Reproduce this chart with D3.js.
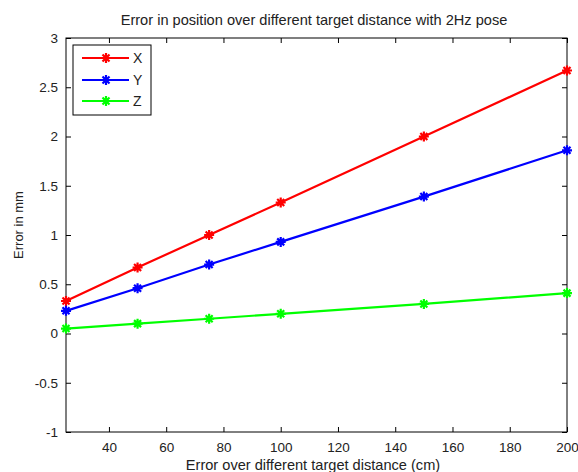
<!DOCTYPE html>
<html><head><meta charset="utf-8">
<script src="https://cdn.jsdelivr.net/npm/d3@7"></script>
<style>body{margin:0;background:#fff}svg{display:block}text{font-family:"Liberation Sans",Arial,sans-serif}</style>
</head><body>
<svg id="c" width="578" height="472"></svg>
<script>
const distances = [25, 50, 75, 100, 150, 200];
const errX = [0.33, 0.67, 1.00, 1.33, 2.00, 2.67];
const errY = [0.23, 0.46, 0.70, 0.93, 1.39, 1.86];
const errZ = [0.05, 0.10, 0.15, 0.20, 0.30, 0.41];
const seriesNames = ["X", "Y", "Z"];
const seriesColors = ["#ff0000", "#0000ff", "#00ff00"];
const xTicks = [40, 60, 80, 100, 120, 140, 160, 180, 200];
const yTicks = [-1, -0.5, 0, 0.5, 1, 1.5, 2, 2.5, 3];

const svg = d3.select("#c");
const m = {l: 66, r: 567, t: 38, b: 432};
const x = d3.scaleLinear().domain([25, 200]).range([m.l, m.r]);
const y = d3.scaleLinear().domain([-1, 3]).range([m.b, m.t]);

const fmt = d => String(d);
const tl = 5;
svg.append("g").attr("transform", `translate(0,${m.b})`)
  .call(d3.axisBottom(x).tickValues(xTicks).tickSize(-tl).tickPadding(10).tickFormat(fmt))
  .call(g => g.select(".domain").remove());
svg.append("g").attr("transform", `translate(0,${m.t})`)
  .call(d3.axisTop(x).tickValues(xTicks).tickSize(-tl).tickFormat(""))
  .call(g => g.select(".domain").remove());
svg.append("g").attr("transform", `translate(${m.l},0)`)
  .call(d3.axisLeft(y).tickValues(yTicks).tickSize(-tl).tickPadding(8).tickFormat(fmt))
  .call(g => g.select(".domain").remove());
svg.append("g").attr("transform", `translate(${m.r},0)`)
  .call(d3.axisRight(y).tickValues(yTicks).tickSize(-tl).tickFormat(""))
  .call(g => g.select(".domain").remove());
svg.selectAll(".tick text").attr("font-size", 13.5).attr("fill", "#222")
  .attr("font-family", '"Liberation Sans",Arial,sans-serif');
svg.selectAll(".tick line").attr("stroke", "#000");
svg.append("rect").attr("x", m.l).attr("y", m.t).attr("width", m.r - m.l).attr("height", m.b - m.t)
  .attr("fill", "none").attr("stroke", "#000").attr("stroke-width", 1);

const data = [errX, errY, errZ];
function star(g, cx, cy, color, s) {
  const p = `M${cx - s},${cy}L${cx + s},${cy}M${cx},${cy - s}L${cx},${cy + s}` +
    `M${cx - s * 0.7},${cy - s * 0.7}L${cx + s * 0.7},${cy + s * 0.7}M${cx - s * 0.7},${cy + s * 0.7}L${cx + s * 0.7},${cy - s * 0.7}`;
  g.append("path").attr("d", p).attr("stroke", color).attr("stroke-width", 2.2).attr("fill", "none");
}
const line = d3.line().x((d, i) => x(distances[i])).y(d => y(d));
data.forEach((vals, k) => {
  const g = svg.append("g");
  g.append("path").attr("d", line(vals)).attr("fill", "none")
    .attr("stroke", seriesColors[k]).attr("stroke-width", 2.2);
  vals.forEach((v, i) => star(g, x(distances[i]), y(v), seriesColors[k], 5));
});

svg.append("text").attr("x", 314).attr("y", 25).attr("text-anchor", "middle").attr("font-size", 14.6)
  .attr("fill", "#222").text("Error in position over different target distance with 2Hz pose");
svg.append("text").attr("x", 313).attr("y", 470).attr("text-anchor", "middle").attr("font-size", 14.6)
  .attr("fill", "#222").text("Error over different target distance (cm)");
svg.append("text").attr("transform", "translate(23,225) rotate(-90)").attr("text-anchor", "middle").attr("font-size", 13)
  .attr("fill", "#222").text("Error in mm");

const lg = svg.append("g");
lg.append("rect").attr("x", 73).attr("y", 45).attr("width", 78).attr("height", 70)
  .attr("fill", "#fff").attr("stroke", "#000");
const rows = [58, 80, 101];
seriesNames.forEach((n, k) => {
  lg.append("line").attr("x1", 82).attr("x2", 129).attr("y1", rows[k]).attr("y2", rows[k])
    .attr("stroke", seriesColors[k]).attr("stroke-width", 2.2);
  star(lg, 106, rows[k], seriesColors[k], 5);
  lg.append("text").attr("x", 133).attr("y", rows[k] + 5).attr("font-size", 14).attr("fill", "#222").text(n);
});
</script>
</body></html>
